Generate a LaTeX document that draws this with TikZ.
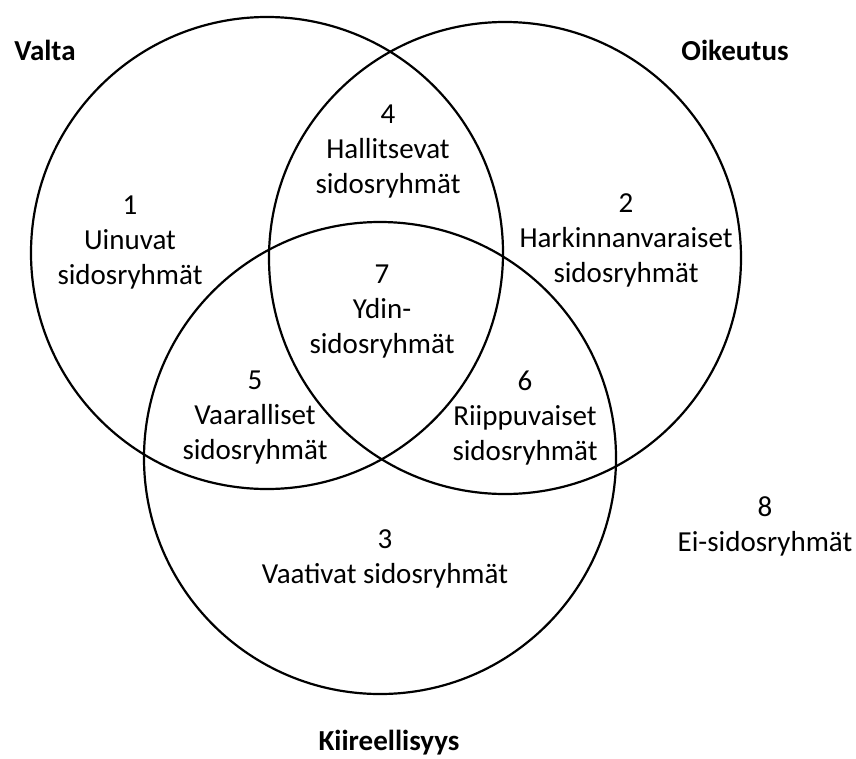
\documentclass[tikz,border=0pt]{standalone}
\usepackage{fontspec}
\setmainfont{Carlito}
\usetikzlibrary{positioning}
\tikzset{%
  % one set of the diagram
  ring/.style={circle, draw, line width=2.2pt, minimum size=472pt, inner sep=0pt},
  % text of one region
  area/.style={align=center, inner sep=0pt, font=\fontsize{29}{35}\selectfont},
  % name of a set
  heading/.style={inner sep=0pt, font=\bfseries\fontsize{29}{35}\selectfont},
}

\begin{document}
\begin{tikzpicture}[x=1pt, y=-1pt]
        \useasboundingbox (0,0) rectangle (856,758);
        \foreach \name/\cx/\cy in {valta/267/253, oikeutus/505/258, kiire/380/458} {
          \node[ring] (\name) at (\cx,\cy) {};
        }

        \node[heading] (valtaname) at (45,50) {Valta};
        \node[heading] (oikeutusname) at (735,50) {Oikeutus};
        \node[heading, anchor=base] (kiirename) at (389,750) {Kiireellisyys};

        \node[area] (uinuvat) at (130,242) {1\\Uinuvat\\sidosryhmät};
        \node[area] (harkinta) at (626,240) {2\\Harkinnanvaraiset\\sidosryhmät};
        \node[area] (vaativat) at (385,559) {3\\Vaativat sidosryhmät};
        \node[area] (hallitsevat) at (388,152) {4\\Hallitsevat\\sidosryhmät};
        \node[area] (vaaralliset) at (255,418) {5\\Vaaralliset\\sidosryhmät};
        \node[area] (riippuvaiset) at (525,418) {6\\Riippuvaiset\\sidosryhmät};
        \node[area] (ydin) at (382,312) {7\\Ydin-\\sidosryhmät};
        \node[area] (eisidos) at (765,526) {8\\Ei-sidosryhmät};
      \end{tikzpicture}
\end{document}
